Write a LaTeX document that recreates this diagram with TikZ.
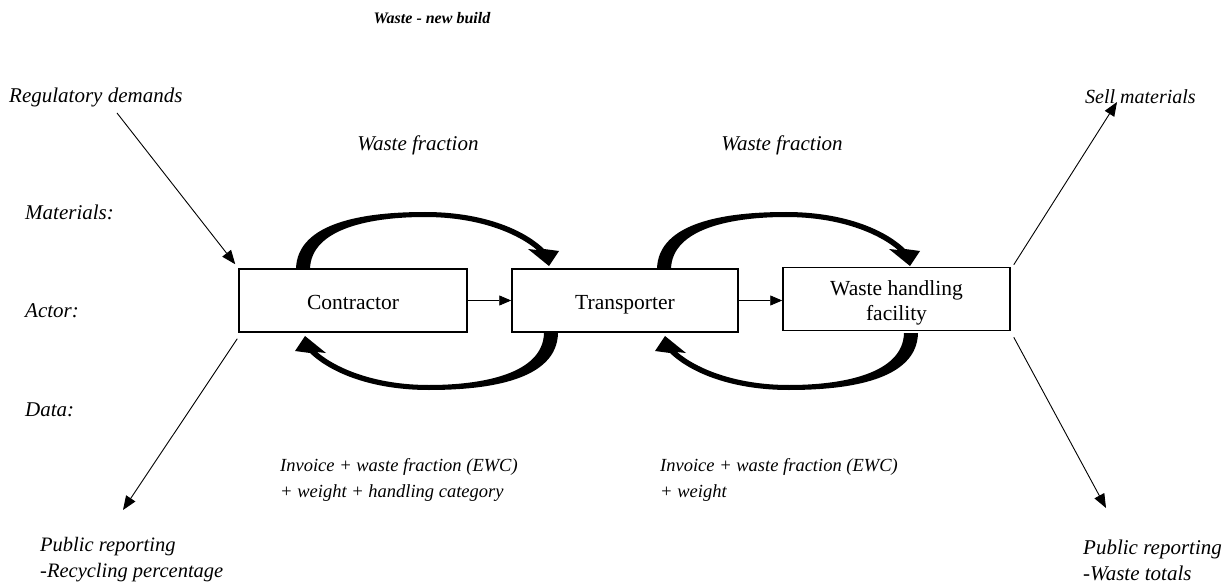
\documentclass[tikz,border=0pt]{standalone}
\usepackage{fontspec}
\setmainfont{Liberation Serif}
\usetikzlibrary{arrows.meta}
\newcommand\wfarc{%
  \fill (296,269) .. controls (297,222) and (365,212) .. (425,212)
    .. controls (480,212) and (522,228) .. (544,249)
    -- (559,251) -- (549,266) -- (528,249) -- (537,250)
    .. controls (517,233) and (478,217) .. (425,217)
    .. controls (372,217) and (311,228) .. (310,269) -- cycle;}
\begin{document}
\begin{tikzpicture}[x=1pt,y=-1pt,
  lab/.style={font=\fontsize{21}{26}\selectfont\itshape, inner sep=0pt, align=left},
  small/.style={font=\fontsize{18.5}{26}\selectfont\itshape},
  actorbox/.style={draw, line width=1.5pt, minimum height=63pt, inner sep=2pt,
     font=\fontsize{21.5}{25}\selectfont},
  oneline/.style={text height=17pt, text depth=0pt},
  thin/.style={line width=0.9pt, -{Triangle[length=14pt,width=11pt]}},
  flow/.style={line width=0.9pt, -{Triangle[length=12pt,width=10pt]}}]
\useasboundingbox (0,0) rectangle (1230,585);
% title
\node[font=\fontsize{16}{18}\selectfont\bfseries\itshape] (title) at (432,18) {Waste - new build};
% side labels
\node[lab, anchor=west] (reg) at (9,97) {Regulatory demands};
\node[lab, anchor=west, font=\fontsize{20}{26}\selectfont\itshape] (sell) at (1085,97) {Sell materials};
\node[lab] (wf1) at (418,145) {Waste fraction};
\node[lab] (wf2) at (782,145) {Waste fraction};
\node[lab, anchor=west] (mat) at (25,212) {Materials:};
\node[lab, anchor=west] (act) at (25,311) {Actor:};
\node[lab, anchor=west] (dat) at (25,410) {Data:};
% boxes
\node[actorbox, oneline, minimum width=228pt] (con) at (353,300.5) {Contractor};
\node[actorbox, oneline, minimum width=226pt] (tra) at (625,300.5) {Transporter};
\node[actorbox, minimum width=227pt, text height=30pt, text depth=12pt] (whf) at (896.5,299)
  {\begin{tabular}{@{}c@{}}Waste handling\\[0pt]facility\end{tabular}};
\draw[flow] (con.east) -- (tra.west);
\draw[flow] (tra.east) -- (whf.west |- tra.east);
% curved flows
\wfarc
\begin{scope}[shift={(361,0)}]\wfarc\end{scope}
\begin{scope}[rotate around={180:(427,301)}]\wfarc\end{scope}
\begin{scope}[rotate around={180:(607,301)}]\wfarc\end{scope}
% straight arrows
\coordinate (rs) at (117,113);
\coordinate (p1) at (123,510);
\coordinate (sm) at (1117,102);
\coordinate (p2) at (1106,508);
\draw[thin] (rs) -- ([shift={(-3,-4)}]con.north west);
\draw[thin] ([shift={(-1,6)}]con.south west) -- (p1);
\draw[thin] ([shift={(3,-2)}]whf.north east) -- (sm);
\draw[thin] ([shift={(3,6)}]whf.south east) -- (p2);
% bottom labels
\node[lab, small, anchor=west] (inv1) at (280,480) {Invoice + waste fraction (EWC)\\+ weight + handling category};
\node[lab, small, anchor=west] (inv2) at (660,480) {Invoice + waste fraction (EWC)\\+ weight};
\node[lab, anchor=west, font=\fontsize{20.5}{26}\selectfont\itshape] (pr1) at (40,560) {Public reporting\\-Recycling percentage};
\node[lab, anchor=west] (pr2) at (1083,560) {Public reporting\\-Waste totals};
\end{tikzpicture}
\end{document}
